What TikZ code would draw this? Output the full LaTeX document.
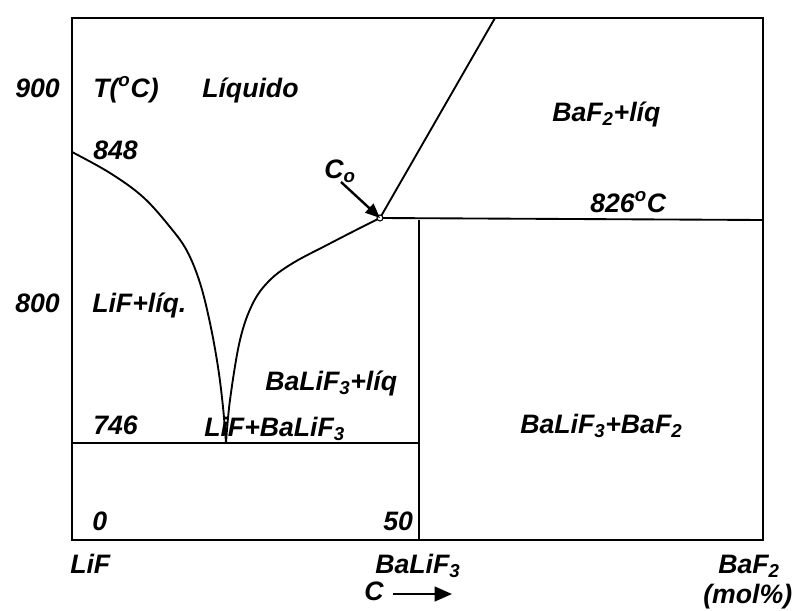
\documentclass[tikz,border=0pt]{standalone}
\usepackage{fontspec}
\setmainfont{Liberation Sans}
\usetikzlibrary{arrows.meta}

\begin{document}
\begin{tikzpicture}[
  x=0.75pt, y=-0.75pt,
  font=\fontsize{20}{23}\selectfont\bfseries\itshape,
  frame/.style={line width=1.4pt},
  liquidus/.style={line width=1.4pt},
  lab/.style={inner sep=0pt, anchor=base west},
  pointer/.style={-{Triangle[length=11pt,width=9pt]}, line width=1.8pt}
]
\useasboundingbox (0,0) rectangle (795,610);

% corners of the diagram and the invariant points
\coordinate (tl) at (72,18);
\coordinate (br) at (763,540);
\coordinate (eut) at (226,443);
\coordinate (co) at (380,218);
\coordinate (peri) at (763,220);
\coordinate (ctop) at (495,18);
\coordinate (cmid) at (419,220);
\coordinate (cbot) at (419,540);
\coordinate (e746l) at (72,443);
\coordinate (e746r) at (419,443);

\draw[frame] (tl) rectangle (br);
\draw[frame] (co) -- (ctop);
\draw[frame] (co) -- (peri);
\draw[frame] (cmid) -- (cbot);
\draw[frame] (e746l) -- (e746r);

% liquidus curves on both sides of the eutectic
\draw[liquidus] plot[smooth, tension=0.6] coordinates {
  (72,152) (110,173) (143,197) (170,227) (187,251) (200,283)
  (210,323) (218,367) (223,407) (eut)};
\draw[liquidus] plot[smooth, tension=0.6] coordinates {
  (eut) (230,400) (240,340) (253,303) (270,280) (293,263)
  (327,245) (360,228) (co)};
\draw[line width=0.8pt, fill=white] (co) circle (3);

% temperature labels
\node[lab] (t900) at (15,97) {900};
\node[lab] (t800) at (15,312) {800};
\node[lab] (t848) at (93,159) {848};
\node[lab] (t746) at (93,434) {746};
\node[lab] (unit) at (93,97) {T(\textsuperscript{o}C)};
\node[lab] (t826) at (590,212) {826\textsuperscript{o}C};

% phase fields
\node[lab] (liq) at (202,98) {Líquido};
\node[lab] (bafliq) at (552,121) {BaF\textsubscript{2}+líq};
\node[lab] (lifliq) at (92,312) {LiF+líq.};
\node[lab] (blfliq) at (265,390) {BaLiF\textsubscript{3}+líq};
\node[lab] (lifblf) at (204,436) {LiF+BaLiF\textsubscript{3}};
\node[lab] (blfbaf) at (520,433) {BaLiF\textsubscript{3}+BaF\textsubscript{2}};

% starting composition
\node[lab] (colab) at (324,178) {C\textsubscript{o}};
\coordinate (cotail) at (341,182);
\draw[pointer] (cotail) -- (co);

% composition axis
\node[lab] (c0) at (92,530) {0};
\node[lab] (c50) at (383,530) {50};
\node[lab] (lif) at (70,573) {LiF};
\node[lab] (blf) at (375,573) {BaLiF\textsubscript{3}};
\node[lab] (baf) at (718,573) {BaF\textsubscript{2}};
\node[lab] (mol) at (703,603) {(mol\%)};
\node[lab] (cax) at (364,600) {C};
\coordinate (cstart) at (393,594);
\coordinate (cend) at (452,594);
\draw[-{Triangle[length=13pt,width=11pt]}, line width=1.6pt] (cstart) -- (cend);

\end{tikzpicture}
\end{document}
